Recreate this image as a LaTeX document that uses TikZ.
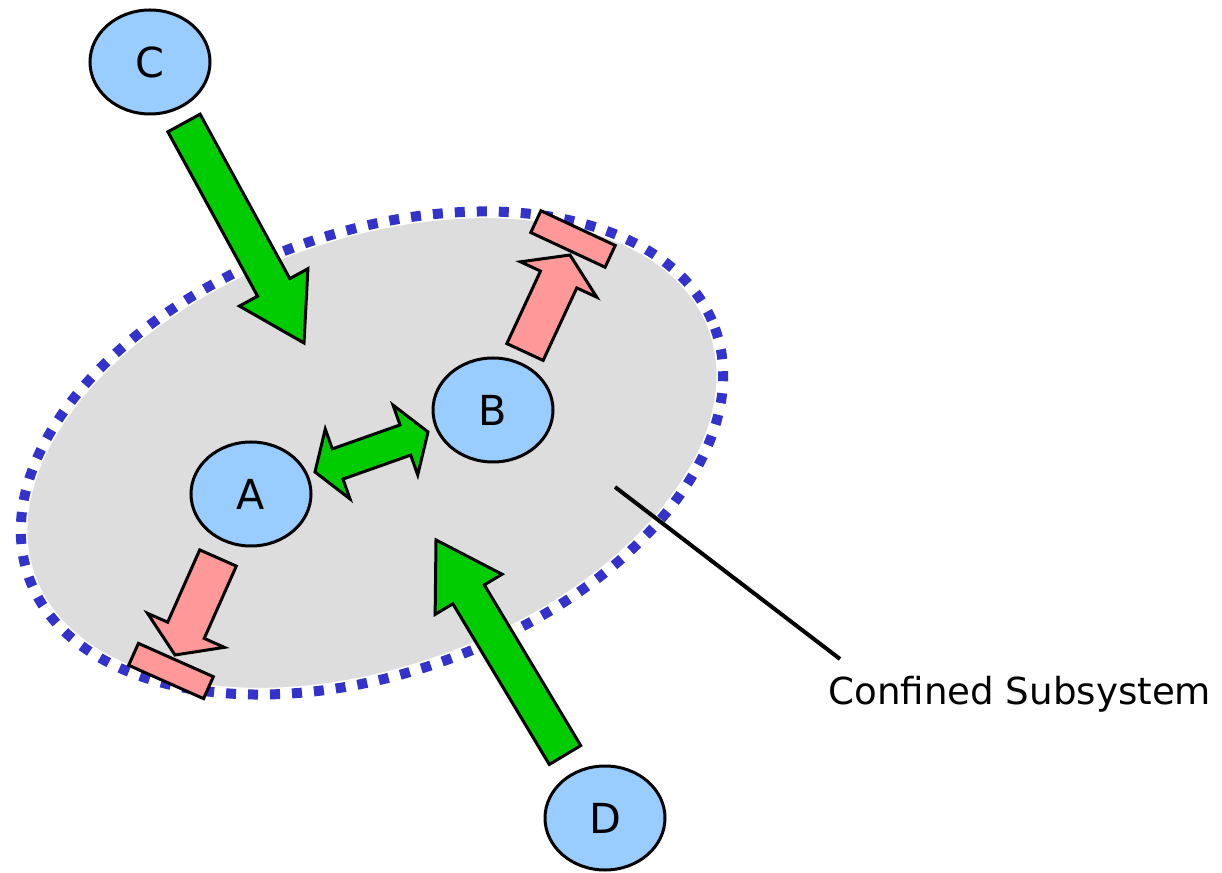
\documentclass[tikz,border=0pt]{standalone}
\usepackage{fontspec}
\setmainfont{DejaVu Sans}
\usepackage{tikz}
\usetikzlibrary{calc,shapes.geometric}
\definecolor{AgentBlue}{HTML}{99CCFF}
\definecolor{FlowGreen}{HTML}{00CC00}
\definecolor{LeakPink}{HTML}{FF9999}
\definecolor{RegionGrey}{HTML}{DDDDDD}
\definecolor{BorderBlue}{HTML}{3333CC}
% fat arrow: [style]{tail}{tip}{half shaft}{half head}{head length}
\newcommand{\blockarrow}[6][]{%
  \coordinate (ba-j) at ($(#3)!#6!(#2)$);
  \draw[#1] ($(#2)!#4!90:(#3)$) -- ($(ba-j)!#4!90:(#3)$) -- ($(ba-j)!#5!90:(#3)$)
    -- (#3) -- ($(ba-j)!#5!-90:(#3)$) -- ($(ba-j)!#4!-90:(#3)$)
    -- ($(#2)!#4!-90:(#3)$) -- cycle;}
% same, with a head at both ends
\newcommand{\twowayarrow}[6][]{%
  \coordinate (ba-j) at ($(#2)!#6!(#3)$);
  \coordinate (ba-k) at ($(#3)!#6!(#2)$);
  \draw[#1] (#2) -- ($(ba-j)!#5!90:(#3)$) -- ($(ba-j)!#4!90:(#3)$)
    -- ($(ba-k)!#4!-90:(#2)$) -- ($(ba-k)!#5!-90:(#2)$) -- (#3)
    -- ($(ba-k)!#5!90:(#2)$) -- ($(ba-k)!#4!90:(#2)$)
    -- ($(ba-j)!#4!-90:(#3)$) -- ($(ba-j)!#5!-90:(#3)$) -- cycle;}

\begin{document}
\begin{tikzpicture}[x=0.75pt,y=-0.75pt,
  agent/.style={ellipse,draw,fill=AgentBlue,line width=2.25pt,minimum width=90pt,
    minimum height=78pt,inner sep=0pt,font=\fontsize{31}{36}\selectfont},
  flow/.style={draw,fill=FlowGreen,line width=2.25pt,line join=miter},
  leak/.style={draw,fill=LeakPink,line width=2.25pt,line join=miter},
  leakbar/.style={rectangle,draw,fill=LeakPink,line width=2.25pt,minimum width=61.5pt,
    minimum height=18pt,inner sep=0pt}]
  \useasboundingbox (0,0) rectangle (1222,873);

  % the confined region
  \begin{scope}[shift={(372,453)},rotate=20]
    \fill[RegionGrey] (0,0) ellipse (365 and 220);
    \draw[white,line width=10pt] (0,0) ellipse (365 and 220);
    \draw[BorderBlue,line width=7.5pt,dash pattern=on 7.5pt off 9pt] (0,0) ellipse (365 and 220);
  \end{scope}

  \node[agent] (C) at (150,62) {C};
  \node[agent] (D) at (605,818) {D};
  \node[agent] (A) at (251,494) {A};
  \node[agent] (B) at (493,410) {B};

  \node[leakbar,rotate=-25] (barB) at (573,239) {};
  \node[leakbar,rotate=-24] (barA) at (171,671) {};

  % arrow ends
  \coordinate (c-out) at (184,123);
  \coordinate (c-in) at (304,343);
  \coordinate (d-out) at (565,755);
  \coordinate (d-in) at (436,540);
  \coordinate (a-side) at (315,472);
  \coordinate (b-side) at (428,432);
  \coordinate (b-out) at (525,352);
  \coordinate (b-leak) at (570,255);
  \coordinate (a-out) at (218,558);
  \coordinate (a-leak) at (175,655);

  \blockarrow[flow]{c-out}{c-in}{13.75pt}{29.25pt}{47.5pt}
  \blockarrow[flow]{d-out}{d-in}{13.75pt}{29.25pt}{47.5pt}
  \twowayarrow[flow]{a-side}{b-side}{12pt}{27.75pt}{18pt}
  \blockarrow[leak]{b-out}{b-leak}{15pt}{31.5pt}{20.25pt}
  \blockarrow[leak]{a-out}{a-leak}{15pt}{31.5pt}{20.25pt}

  % label
  \node[anchor=base west,inner sep=0pt,font=\fontsize{27.9}{33}\selectfont] (lbl) at (828,704) {Confined Subsystem};
  \coordinate (inside) at (615,487);
  \coordinate (lead) at (840,659);
  \draw[line width=3pt] (inside) -- (lead);
\end{tikzpicture}
\end{document}
